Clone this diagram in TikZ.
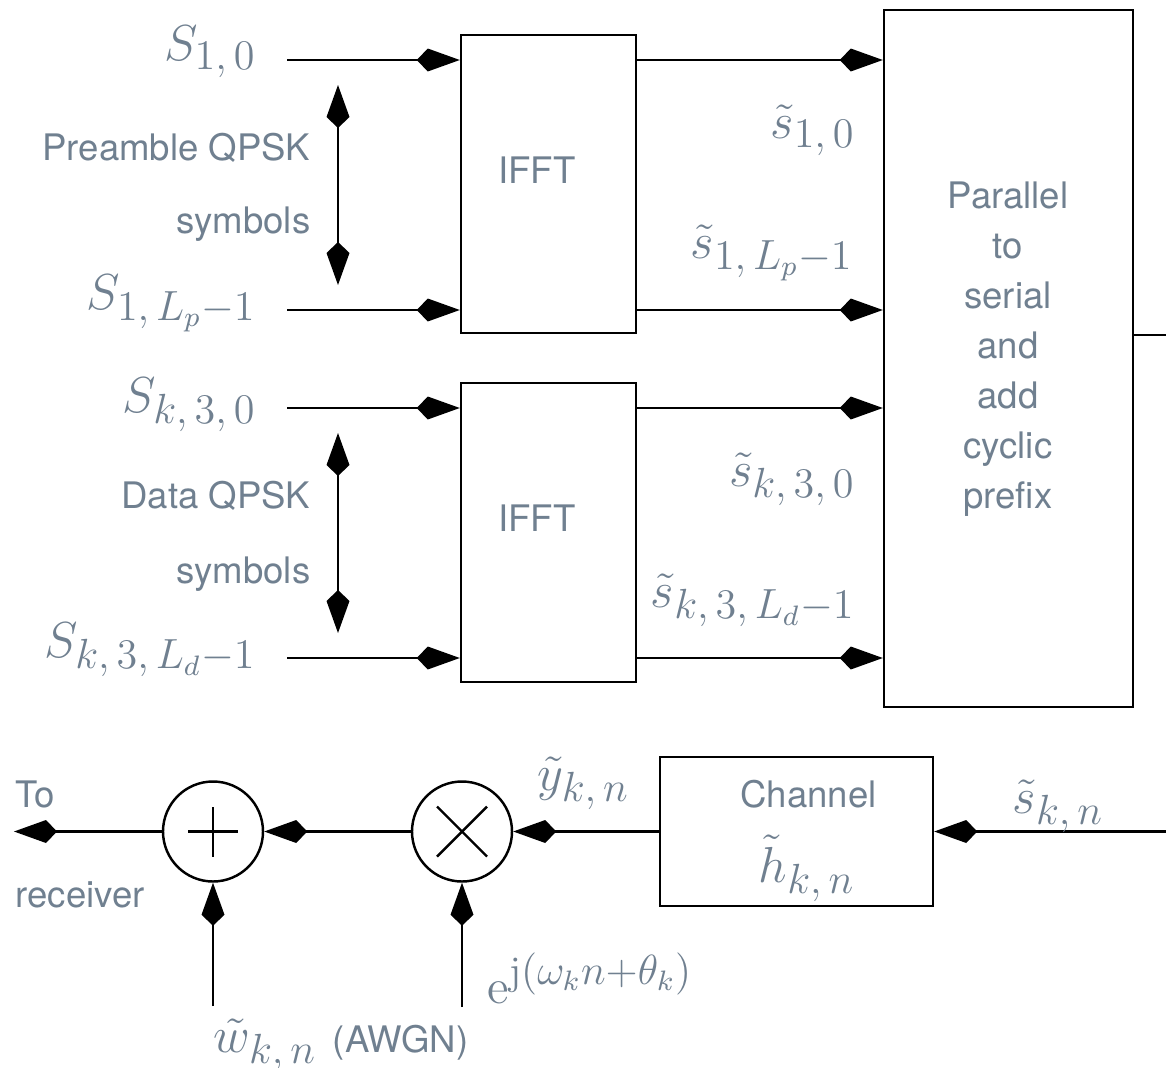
\documentclass[tikz,border=0pt]{standalone}
\usepackage{fontspec}
\setsansfont{TeX Gyre Heros}
\usetikzlibrary{arrows.meta,positioning}
\definecolor{labelgray}{RGB}{112,128,144}
\DeclareMathSizes{14}{14}{11.5}{8.5}

\tikzset{
    dkite/.tip={Kite[length=4.3mm,width=2.3mm,inset=1.1mm]},
    wire/.style={line width=0.7pt},
    sig/.style={wire,-dkite},
    blockbox/.style={draw,line width=0.7pt,inner sep=0pt},
    sumnode/.style={draw,circle,line width=0.7pt,minimum size=1cm,inner sep=0pt},
    txt/.style={text=labelgray,font=\sffamily\fontsize{10.4}{14.2}\selectfont,inner sep=0pt},
    mlbl/.style={text=labelgray,font=\fontsize{14}{17}\selectfont,inner sep=0pt}
}

\begin{document}
\begin{tikzpicture}
    \useasboundingbox (0,0) rectangle (11.66,-10.68);

    % IFFT blocks and parallel/serial block
    \node[blockbox,minimum width=1.75cm,minimum height=2.98cm] (ifftA) at (5.485,-1.84) {};
    \node[blockbox,minimum width=1.75cm,minimum height=2.99cm] (ifftB) at (5.485,-5.325) {};
    \node[blockbox,minimum width=2.49cm,minimum height=6.97cm] (ps) at (10.085,-3.585) {};
    \node[txt,anchor=base] (ifftAtxt) at (5.37,-1.83) {IFFT};
    \node[txt,anchor=base] (ifftBtxt) at (5.37,-5.31) {IFFT};
    \node[txt,align=center] (pstxt) at (10.08,-3.49) {Parallel\\to\\serial\\and\\add\\cyclic\\prefix};

    % inputs
    \coordinate (inA) at (2.87,-0.60);
    \coordinate (inB) at (2.87,-3.10);
    \coordinate (inC) at (2.87,-4.08);
    \coordinate (inD) at (2.87,-6.58);
    \draw[sig] (inA) -- (inA -| ifftA.west);
    \draw[sig] (inB) -- (inB -| ifftA.west);
    \draw[sig] (inC) -- (inC -| ifftB.west);
    \draw[sig] (inD) -- (inD -| ifftB.west);
    \draw[sig] (inA -| ifftA.east) -- (inA -| ps.west);
    \draw[sig] (inB -| ifftA.east) -- (inB -| ps.west);
    \draw[sig] (inC -| ifftB.east) -- (inC -| ps.west);
    \draw[sig] (inD -| ifftB.east) -- (inD -| ps.west);

    \node[mlbl,anchor=base east] (sA) at (2.57,-0.60) {$S_{1,\,0}$};
    \node[mlbl,anchor=base east] (sB) at (2.57,-3.09) {$S_{1,\,L_p-1}$};
    \node[mlbl,anchor=base east] (sC) at (2.57,-4.12) {$S_{k,\,3,\,0}$};
    \node[mlbl,anchor=base east] (sD) at (2.57,-6.57) {$S_{k,\,3,\,L_d-1}$};
    \node[mlbl,anchor=base east] (tsA) at (8.56,-1.38) {$\tilde{s}_{1,\,0}$};
    \node[mlbl,anchor=base east] (tsB) at (8.54,-2.58) {$\tilde{s}_{1,\,L_p-1}$};
    \node[mlbl,anchor=base east] (tsC) at (8.56,-4.86) {$\tilde{s}_{k,\,3,\,0}$};
    \node[mlbl,anchor=base east] (tsD) at (8.56,-6.07) {$\tilde{s}_{k,\,3,\,L_d-1}$};

    % symbol ranges
    \coordinate (rngAtop) at (3.38,-0.85);
    \coordinate (rngAbot) at (3.38,-2.85);
    \coordinate (rngBtop) at (3.38,-4.33);
    \coordinate (rngBbot) at (3.38,-6.33);
    \draw[wire,dkite-dkite] (rngAtop) -- (rngAbot);
    \draw[wire,dkite-dkite] (rngBtop) -- (rngBbot);
    \node[txt,anchor=base east] (preA) at (3.11,-1.60) {Preamble QPSK};
    \node[txt,anchor=base east] (preB) at (3.11,-2.33) {symbols};
    \node[txt,anchor=base east] (datA) at (3.11,-5.08) {Data QPSK};
    \node[txt,anchor=base east] (datB) at (3.11,-5.83) {symbols};

    \coordinate (psout) at (11.66,-3.35);
    \draw[wire] (psout -| ps.east) -- (psout);

    % channel, carrier offset and noise
    \node[blockbox,minimum width=2.73cm,minimum height=1.49cm] (chan) at (7.965,-8.315) {};
    \node[txt,anchor=base] (chantxt) at (8.085,-8.07) {Channel};
    \node[mlbl,anchor=base] (chanh) at (8.07,-8.82) {$\tilde{h}_{k,\,n}$};
    \node[sumnode] (mult) at (4.62,-8.315) {};
    \node[sumnode] (adder) at (2.13,-8.315) {};
    \draw[wire] ([shift={(-2.5mm,-2.5mm)}]mult.center) -- ([shift={(2.5mm,2.5mm)}]mult.center);
    \draw[wire] ([shift={(-2.5mm,2.5mm)}]mult.center) -- ([shift={(2.5mm,-2.5mm)}]mult.center);
    \draw[wire] ([xshift=-2.5mm]adder.center) -- ([xshift=2.5mm]adder.center);
    \draw[wire] ([yshift=-2.5mm]adder.center) -- ([yshift=2.5mm]adder.center);

    \coordinate (sin) at (11.66,-8.315);
    \coordinate (rx) at (0.14,-8.315);
    \coordinate (noise) at (2.13,-10.06);
    \coordinate (osc) at (4.62,-10.07);
    \draw[sig] (sin) -- (chan.east);
    \draw[sig] (chan.west) -- (mult.east);
    \draw[sig] (mult.west) -- (adder.east);
    \draw[sig] (adder.west) -- (rx);
    \draw[sig] (noise) -- (adder.south);
    \draw[sig] (osc) -- (mult.south);

    \node[txt,anchor=base west] (totxt) at (0.15,-8.07) {To};
    \node[txt,anchor=base west] (rxtxt) at (0.15,-9.07) {receiver};
    \node[mlbl,anchor=base west] (ytxt) at (5.37,-7.90) {$\tilde{y}_{k,\,n}$};
    \node[mlbl,anchor=base west] (stxt) at (10.12,-8.13) {$\tilde{s}_{k,\,n}$};
    \node[mlbl,anchor=base west] (osctxt) at (4.87,-10.03) {$\mathrm{e}^{\mathrm{j}(\omega_k n+\theta_k)}$};
    \node[mlbl,anchor=base west] (awgntxt) at (2.13,-10.52) {$\tilde{w}_{k,\,n}$ {\sffamily\fontsize{10.4}{12}\selectfont (AWGN)}};
\end{tikzpicture}
\end{document}
